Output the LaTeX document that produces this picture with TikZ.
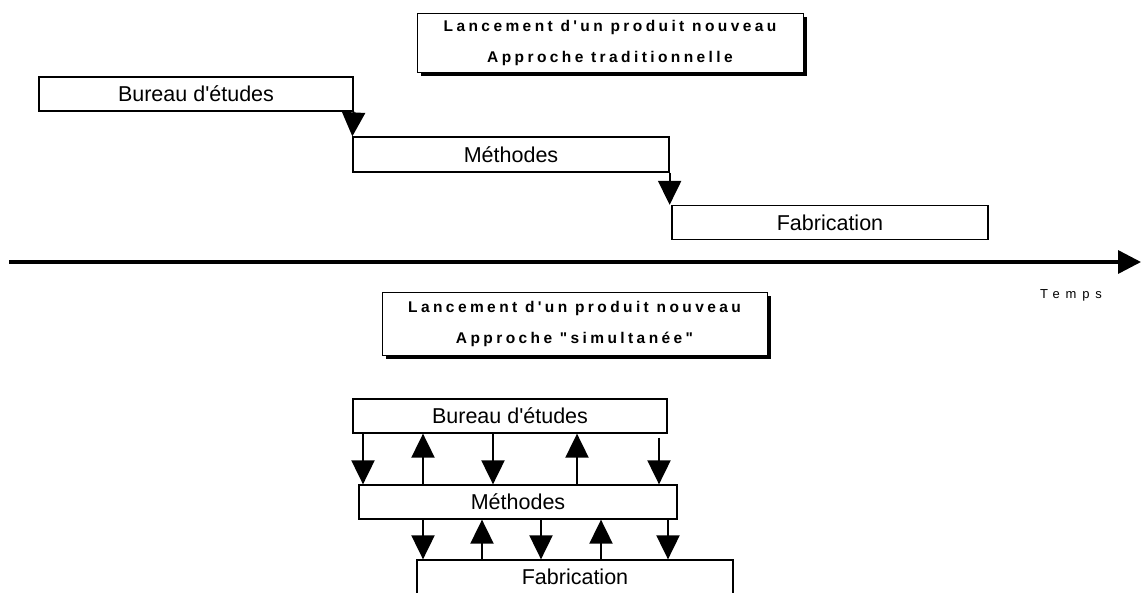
\documentclass[tikz,border=0pt]{standalone}
\usepackage{fontspec}
\setmainfont{Liberation Sans}[Ligatures=TeXOff]
\newfontfamily\titrefont{Liberation Sans}[LetterSpace=22,Ligatures=TeXOff]
\newfontfamily\tempsfont{Liberation Sans}[LetterSpace=45,Ligatures=TeXOff]
\usetikzlibrary{arrows.meta, shadows}

\begin{document}
\begin{tikzpicture}[x=1pt, y=-1pt,
  boite/.style={draw, line width=1.3pt, minimum height=34pt, inner sep=0pt,
    font=\fontsize{21.5}{24}\selectfont},
  titre/.style={draw, line width=1pt, fill=white, align=center, inner sep=0pt,
    font=\titrefont\bfseries\fontsize{15.5}{31}\selectfont,
    drop shadow={shadow xshift=4pt, shadow yshift=-4pt, fill=black, opacity=1}},
  fleche/.style={line width=2pt, -{Triangle[length=24pt, width=23pt]}}]
  \useasboundingbox (0,0) rectangle (1142,592);
  \clip (0,0) rectangle (1142,592);

  % approche traditionnelle
  \node[titre, minimum width=386pt, minimum height=59pt] (titre1) at (610,42.5)
    {Lancement d'un produit nouveau\\Approche traditionnelle};
  \node[boite, minimum width=314pt] (be1) at (196,94) {Bureau d'études};
  \node[boite, minimum width=316pt, minimum height=35pt] (me1) at (511,154.5) {Méthodes};
  \node[boite, minimum width=316pt] (fa1) at (830,222.5) {Fabrication};
  \draw[fleche] (be1.south east) -- (me1.north west);
  \draw[fleche] (me1.south east) -- (me1.south east |- fa1.north);

  % axe du temps
  \coordinate (t0) at (9,262);
  \coordinate (t1) at (1141,262);
  \draw[line width=3.5pt, -{Triangle[length=23pt, width=23pt]}] (t0) -- (t1);
  \node[font=\tempsfont\fontsize{13}{15}\selectfont] (temps) at (1071,295) {Temps};

  % approche simultanee
  \node[titre, minimum width=385pt, minimum height=63pt] (titre2) at (574.5,323.5)
    {Lancement d'un produit nouveau\\Approche "simultanée"};
  \node[boite, minimum width=314pt] (be2) at (510,416) {Bureau d'études};
  \node[boite, minimum width=318pt] (me2) at (518,502) {Méthodes};
  \node[boite, minimum width=316pt] (fa2) at (575,577) {Fabrication};

  \foreach \x in {363,493}
    \draw[fleche] (be2.south -| \x,0) -- (me2.north -| \x,0);
  \draw[fleche, shorten <=4pt] (be2.south -| 659,0) -- (me2.north -| 659,0);
  \foreach \x in {423,577}
    \draw[fleche] (me2.north -| \x,0) -- (be2.south -| \x,0);
  \foreach \x in {423,541,668}
    \draw[fleche] (me2.south -| \x,0) -- (fa2.north -| \x,0);
  \foreach \x in {482,601}
    \draw[fleche] (fa2.north -| \x,0) -- (me2.south -| \x,0);
\end{tikzpicture}
\end{document}
